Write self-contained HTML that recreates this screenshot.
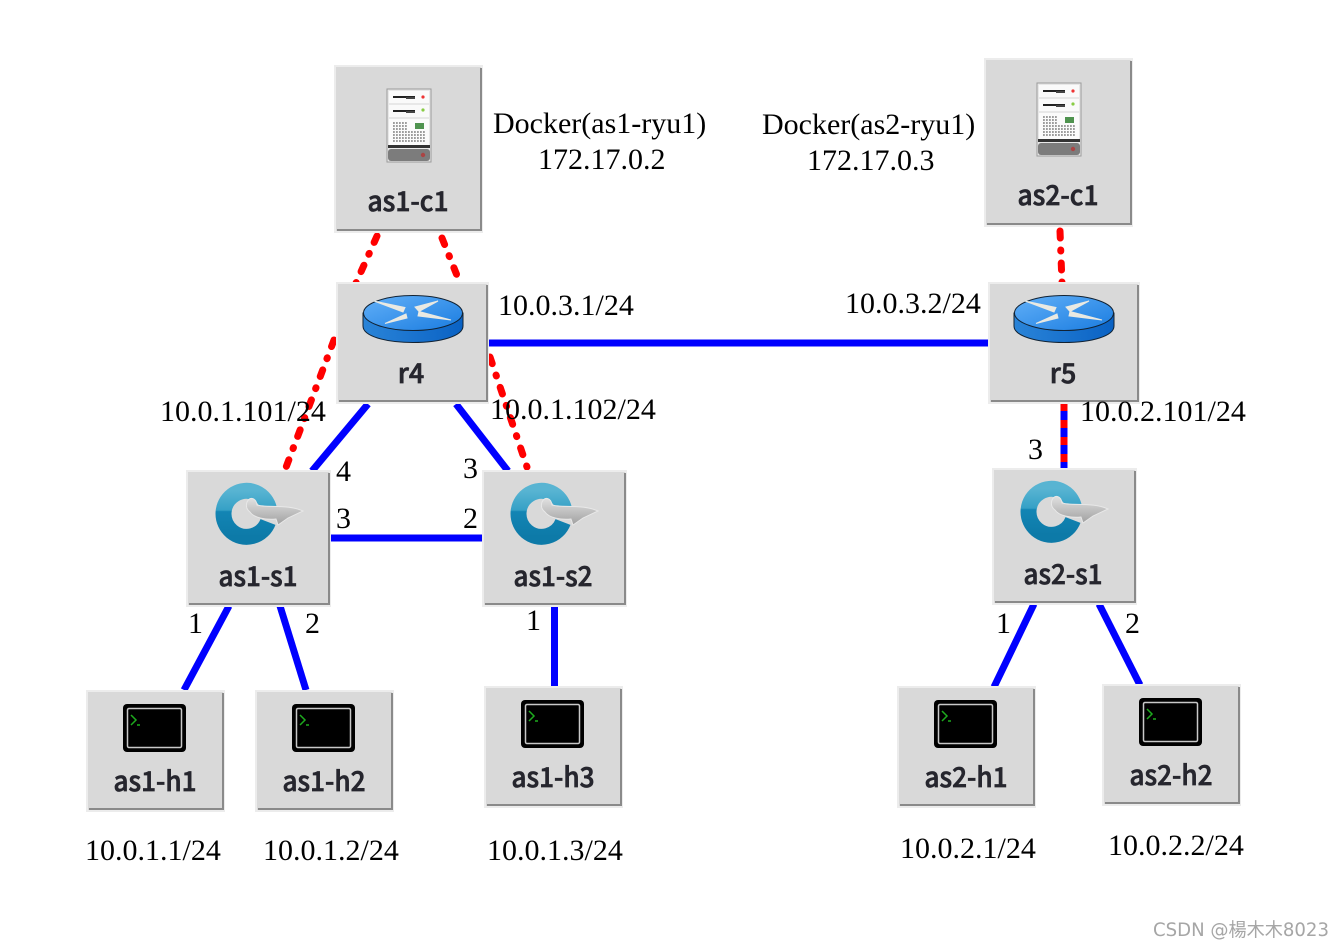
<!DOCTYPE html>
<html><head><meta charset="utf-8"><style>
html,body{margin:0;padding:0;background:#fff}
svg{display:block}
.t{font-family:"Liberation Serif",serif;font-size:30px;fill:#000}
.n{font-family:"Noto Sans CJK SC","DejaVu Sans",sans-serif;font-size:27px;font-weight:500;fill:#26262e;stroke:#26262e;stroke-width:.7px;text-anchor:middle}
</style></head><body>
<svg width="1343" height="947" viewBox="0 0 1343 947" xmlns="http://www.w3.org/2000/svg">
<defs>
<linearGradient id="rt" x1="0" y1="0" x2="1" y2="1"><stop offset="0" stop-color="#62b0f8"/><stop offset="1" stop-color="#1a7ce0"/></linearGradient>
<linearGradient id="rb" x1="0" y1="0" x2="1" y2="0"><stop offset="0" stop-color="#2a84d8"/><stop offset="1" stop-color="#0a62c4"/></linearGradient>
<linearGradient id="ring" x1="0" y1="0" x2="0" y2="1"><stop offset="0" stop-color="#58b4d2"/><stop offset=".42" stop-color="#35a0c6"/><stop offset=".45" stop-color="#1385b4"/><stop offset="1" stop-color="#0d7aa8"/></linearGradient>
<linearGradient id="arrow" x1="0" y1="0" x2="0" y2="1"><stop offset="0" stop-color="#e0e0e0"/><stop offset="1" stop-color="#a0a0a0"/></linearGradient>
<g id="server">
<rect x="-1" y="-1" width="44" height="73" fill="#e8e8e8" stroke="#9a9a9a" stroke-width="1"/>
<rect x="1" y="1" width="40" height="12" fill="#fafafa"/>
<rect x="5" y="6" width="22" height="2" fill="#222"/><rect x="18" y="7" width="9" height="2" fill="#444"/><circle cx="35" cy="7" r="1.600" fill="#e33"/>
<rect x="1" y="15" width="40" height="12" fill="#fafafa"/>
<rect x="5" y="20" width="22" height="2" fill="#222"/><rect x="18" y="21" width="9" height="2" fill="#444"/><circle cx="35" cy="20" r="1.600" fill="#8c4"/>
<rect x="1" y="29" width="40" height="26" fill="#fbfbfb"/>
<path d="M5 33h14M5 36h14M5 39h14M5 42h32M5 45h32M5 48h32M5 51h32" stroke="#909090" stroke-width="1.800" stroke-dasharray="1.800 1.200"/>
<rect x="27" y="33" width="9" height="6" fill="#4f934f"/>
<rect x="0" y="55" width="42" height="3" fill="#333"/>
<rect x="0" y="59" width="42" height="12" rx="3" fill="#7c7c7c"/>
<circle cx="35" cy="65" r="2.200" fill="#a44"/>
</g>
<g id="router">
<path d="M0 18 V31 C0 41 22 47.500 50 47.500 C78 47.500 100 41 100 31 V18 Z" fill="url(#rb)" stroke="#123" stroke-width="1"/>
<ellipse cx="50" cy="18" rx="49.500" ry="17.500" fill="url(#rt)" stroke="#123" stroke-width="1"/>
<path d="M11 6 L42 12.500 L40 17 Z M75 6 L52 12 L56 16.500 Z M22 28.500 L43 19 L44 23 Z M56 16.500 L88 25 L55 21 Z" fill="#e9e9e2" stroke="#e9e9e2" stroke-width="1"/>
</g>
<g id="switch">
<path d="M53 25 A23 23 0 1 0 52 38" fill="none" stroke="url(#ring)" stroke-width="16"/>
<path d="M31 18 C34 12 40 14 41 21 C50 24 72 20 87 27 L72 34 L62 41 L60 35 C50 36 38 34 34 28 C30 25 30 21 31 18Z" fill="url(#arrow)" stroke="#e8e8e8" stroke-width="1"/>
</g>
<g id="term">
<rect x="0" y="0" width="63" height="48" rx="4" fill="#000"/>
<rect x="4.500" y="4.500" width="54" height="39" rx="1.500" fill="#000" stroke="#c8c8c8" stroke-width="1.500"/>
<path d="M8 11 L13 16 L8 21 M14 21 H17" fill="none" stroke="#1eaa1e" stroke-width="1.500"/>
</g>
</defs>

<g fill="none" stroke-linecap="round">
<g stroke="#ff0000" stroke-width="7" stroke-dasharray="7 12 1 12">
<path d="M377 236 L356 283"/>
<path d="M442 238 L460 283"/>
<path d="M334 340 L285 470"/>
<path d="M490 357 L528 470"/>
<path d="M1060 231 L1062 283"/>
</g>
</g>
<g fill="none" stroke-linecap="butt">
<g stroke="#0000ff" stroke-width="7">
<path d="M488 343 H989"/>
<path d="M368 404 L312 471"/>
<path d="M456 404 L508 471"/>
<path d="M330 538 H483"/>
<path d="M229 606 L184 690"/>
<path d="M280 606 L306 690"/>
<path d="M554.500 606 V687"/>
<path d="M1034 604 L994 687"/>
<path d="M1099 604 L1140 685"/>
<path d="M1064 403 V469"/>
</g>
<path d="M1064 403 V469" stroke="#ff0000" stroke-width="7" stroke-dasharray="8 9"/>
</g>

<g fill="#d9d9d9" stroke="#ececec" stroke-width="2">
<rect x="335" y="66" width="147" height="166"/>
<rect x="985" y="59" width="147" height="167"/>
<rect x="337" y="283" width="151" height="120"/>
<rect x="989" y="283" width="150" height="120"/>
<rect x="187" y="471" width="143" height="135"/>
<rect x="483" y="471" width="143" height="135"/>
<rect x="993" y="469" width="143" height="135"/>
<rect x="87" y="691" width="137" height="120"/>
<rect x="256" y="691" width="137" height="120"/>
<rect x="485" y="687" width="137" height="120"/>
<rect x="898" y="687" width="137" height="120"/>
<rect x="1103" y="685" width="137" height="120"/>
</g>
<g fill="none" stroke="#8a8a8a" stroke-width="2">
<path d="M481 68 V230 H337"/>
<path d="M1131 61 V224 H987"/>
<path d="M487 285 V401 H339"/>
<path d="M1138 285 V401 H991"/>
<path d="M329 473 V604 H189"/>
<path d="M625 473 V604 H485"/>
<path d="M1135 471 V602 H995"/>
<path d="M223 693 V809 H89"/>
<path d="M392 693 V809 H258"/>
<path d="M621 689 V805 H487"/>
<path d="M1034 689 V805 H900"/>
<path d="M1239 687 V803 H1105"/>
</g>

<use href="#server" x="388" y="90"/>
<use href="#server" x="1038" y="84"/>
<use href="#router" x="363" y="295"/>
<use href="#router" x="1014" y="295"/>
<use href="#switch" x="216" y="484"/>
<use href="#switch" x="511" y="484"/>
<use href="#switch" x="1021" y="482"/>
<use href="#term" x="123" y="704"/>
<use href="#term" x="292" y="704"/>
<use href="#term" x="521" y="700"/>
<use href="#term" x="934" y="700"/>
<use href="#term" x="1139" y="698"/>

<g>
<text class="n" x="408" y="211" textLength="81" lengthAdjust="spacingAndGlyphs">as1-c1</text>
<text class="n" x="1058" y="205" textLength="81" lengthAdjust="spacingAndGlyphs">as2-c1</text>
<text class="n" x="411" y="383">r4</text>
<text class="n" x="1063" y="383">r5</text>
<text class="n" x="258" y="586" textLength="79" lengthAdjust="spacingAndGlyphs">as1-s1</text>
<text class="n" x="553" y="586" textLength="79" lengthAdjust="spacingAndGlyphs">as1-s2</text>
<text class="n" x="1063" y="584" textLength="79" lengthAdjust="spacingAndGlyphs">as2-s1</text>
<text class="n" x="155" y="791" textLength="83" lengthAdjust="spacingAndGlyphs">as1-h1</text>
<text class="n" x="324" y="791" textLength="83" lengthAdjust="spacingAndGlyphs">as1-h2</text>
<text class="n" x="553" y="787" textLength="83" lengthAdjust="spacingAndGlyphs">as1-h3</text>
<text class="n" x="966" y="787" textLength="83" lengthAdjust="spacingAndGlyphs">as2-h1</text>
<text class="n" x="1171" y="785" textLength="83" lengthAdjust="spacingAndGlyphs">as2-h2</text>
</g>

<g>
<text class="t" x="493" y="133">Docker(as1-ryu1)</text>
<text class="t" x="538" y="169">172.17.0.2</text>
<text class="t" x="762" y="134">Docker(as2-ryu1)</text>
<text class="t" x="807" y="170">172.17.0.3</text>
<text class="t" x="498" y="315">10.0.3.1/24</text>
<text class="t" x="845" y="313">10.0.3.2/24</text>
<text class="t" x="160" y="421">10.0.1.101/24</text>
<text class="t" x="490" y="419">10.0.1.102/24</text>
<text class="t" x="1080" y="421">10.0.2.101/24</text>
<text class="t" x="336" y="481">4</text>
<text class="t" x="463" y="478">3</text>
<text class="t" x="336" y="528">3</text>
<text class="t" x="463" y="528">2</text>
<text class="t" x="1028" y="459">3</text>
<text class="t" x="188" y="633">1</text>
<text class="t" x="305" y="633">2</text>
<text class="t" x="526" y="630">1</text>
<text class="t" x="996" y="633">1</text>
<text class="t" x="1125" y="633">2</text>
<text class="t" x="85" y="860">10.0.1.1/24</text>
<text class="t" x="263" y="860">10.0.1.2/24</text>
<text class="t" x="487" y="860">10.0.1.3/24</text>
<text class="t" x="900" y="858">10.0.2.1/24</text>
<text class="t" x="1108" y="855">10.0.2.2/24</text>
</g>
<text x="1153" y="936" style="font-family:'DejaVu Sans','Noto Sans CJK TC',sans-serif;font-size:19px;fill:#a6a6a6" textLength="176" lengthAdjust="spacingAndGlyphs">CSDN @楊木木8023</text>
</svg>
</body></html>
